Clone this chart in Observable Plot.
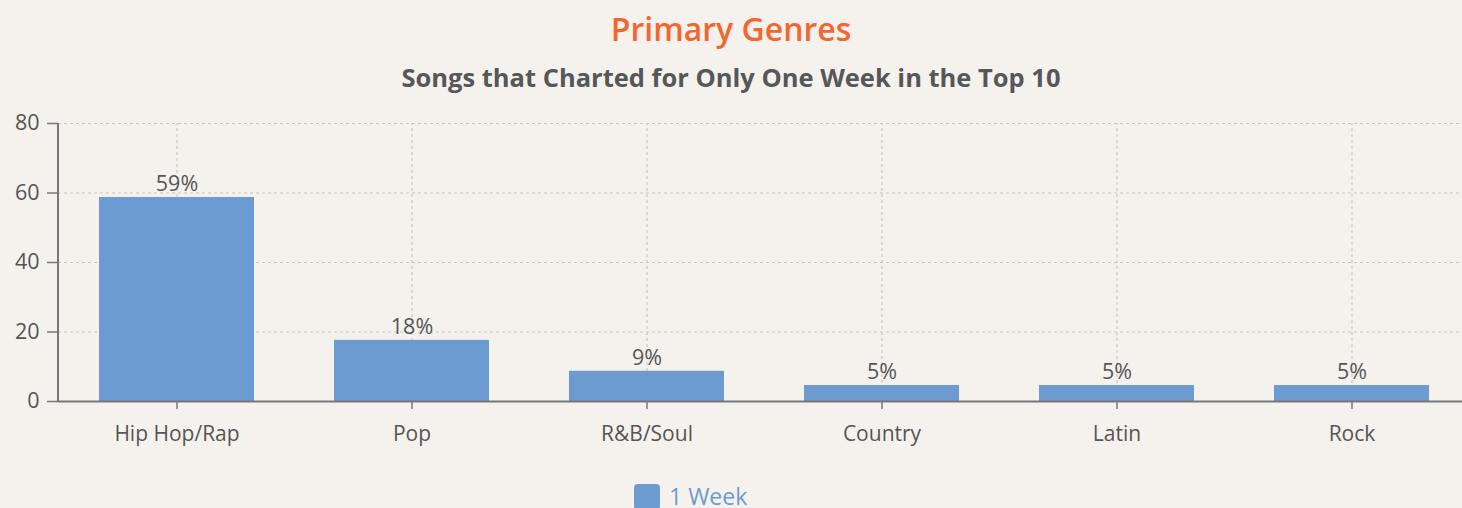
<!DOCTYPE html>
<html>
<head>
<meta charset="utf-8">
<script src="https://cdn.jsdelivr.net/npm/d3@7"></script>
<script src="https://cdn.jsdelivr.net/npm/@observablehq/plot@0.6"></script>
<style>
  html, body { margin: 0; padding: 0; background: #f5f2ee; overflow: hidden; }
  body { width: 1462px; height: 508px; font-family: "Open Sans", Lato, sans-serif; }
  #title { position: absolute; top: 7px; left: 0; width: 1462px; text-align: center; color: #f5652f; font-size: 32px; font-weight: 600; line-height: 44px; }
  #subtitle { position: absolute; top: 59px; left: 0; width: 1462px; text-align: center; color: #555759; font-size: 25.5px; font-weight: 700; line-height: 36px; }
  #chart { position: absolute; top: 100px; left: 0; }
  #legend { position: absolute; top: 482px; left: 634px; color: #6b9bd1; font-size: 23px; line-height: 28px; white-space: nowrap; }
  #legend .sw { display: inline-block; width: 26px; height: 26px; background: #6b9bd1; border-radius: 4px; vertical-align: -5px; margin-right: 9px; }
</style>
</head>
<body>
<div id="title">Primary Genres</div>
<div id="subtitle">Songs that Charted for Only One Week in the Top 10</div>
<div id="chart"></div>
<div id="legend"><span class="sw"></span>1 Week</div>
<script>
const genres = ["Hip Hop/Rap", "Pop", "R&B/Soul", "Country", "Latin", "Rock"];
const oneWeek = [58.7, 17.6, 8.7, 4.6, 4.6, 4.6];
const valueLabels = ["59%", "18%", "9%", "5%", "5%", "5%"];
const yTicks = [0, 20, 40, 60, 80];
const seriesName = "1 Week";

const data = genres.map((g, i) => ({genre: g, value: oneWeek[i], label: valueLabels[i], series: seriesName}));

const fontFam = '"Open Sans", Lato, sans-serif';
const chart = Plot.plot({
  width: 1462,
  height: 360,
  marginTop: 23,
  marginLeft: 58,
  marginRight: -8,
  marginBottom: 59,
  style: {background: "transparent", fontFamily: fontFam, fontSize: "21px", color: "#555", overflow: "visible"},
  x: {domain: genres, paddingInner: 0.34, paddingOuter: 0.174, label: null},
  y: {domain: [0, 80], ticks: yTicks, label: null},
  marks: [
    Plot.ruleY(yTicks.filter(d => d > 0), {stroke: "#c9c6c2", strokeDasharray: "3,3", strokeWidth: 1.2}),
    Plot.ruleX(genres, {x: d => d, y1: 0, y2: 80, stroke: "#c9c6c2", strokeDasharray: "3,3", strokeWidth: 1.2}),
    Plot.barY(data, {x: "genre", y: "value", fill: "#6b9bd1"}),
    Plot.text(data, {x: "genre", y: "value", text: "label", dy: -13, fill: "#555", fontSize: 21.5}),
    Plot.axisY({ticks: yTicks, tickSize: 11, tickPadding: 8, stroke: "#777", fill: "#555", fontSize: 21.5, label: null, strokeWidth: 1.5}),
    Plot.axisX({tickSize: 8, tickPadding: 17, stroke: "#777", fill: "#555", fontSize: 21, label: null, strokeWidth: 1.5}),
    Plot.ruleY([0], {stroke: "#777", strokeWidth: 2})
  ]
});
document.getElementById("chart").appendChild(chart);
// y axis line
const svg = d3.select(chart);
svg.append("line").attr("x1", 58).attr("x2", 58).attr("y1", 23).attr("y2", 301).attr("stroke", "#777").attr("stroke-width", 2);
</script>
</body>
</html>
